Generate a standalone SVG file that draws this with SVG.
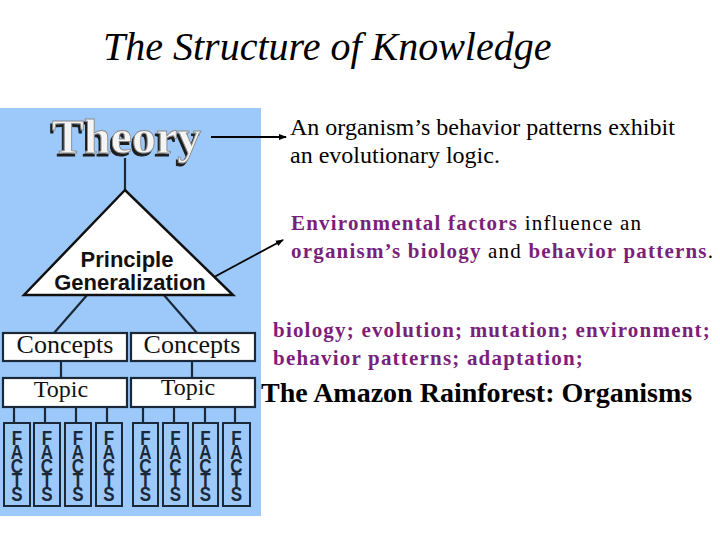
<svg xmlns="http://www.w3.org/2000/svg" width="720" height="540" viewBox="0 0 720 540">
<style>
.box{fill:#ffffff;stroke:#1b2838;stroke-width:2.2}
.fbox{fill:#9cc9f9;stroke:#1b2838;stroke-width:2}
.ln{stroke:#1b2838;stroke-width:2.2;fill:none}
.arr{stroke:#000;stroke-width:1.8;fill:none}
.serif{font-family:"Liberation Serif","Times New Roman",serif}
.sans{font-family:"Liberation Sans",Arial,sans-serif}
.lbl{font-family:"Liberation Serif","Times New Roman",serif;fill:#111;text-anchor:middle}
.f{font-family:"Liberation Sans",Arial,sans-serif;font-weight:bold;font-size:17px;fill:#1b2838;writing-mode:vertical-rl;text-orientation:upright;letter-spacing:-7.5px}
.pur{fill:#7b1f7b;font-weight:bold}
</style>
<defs>
<marker id="ah" markerWidth="8" markerHeight="8" refX="7" refY="4" orient="auto" markerUnits="userSpaceOnUse">
<path d="M0,1 L8,4 L0,7 z" fill="#000"/>
</marker>
<filter id="sh" x="-10%" y="-20%" width="120%" height="150%">
<feDropShadow dx="-2" dy="3" stdDeviation="0.6" flood-color="#1e1e1e" flood-opacity="1"/>
</filter>
</defs>
<rect width="720" height="540" fill="#ffffff"/>
<text class="serif" x="103" y="60" font-size="40" font-style="italic" fill="#000">The Structure of Knowledge</text>
<rect id="panel" x="0" y="108" width="261" height="408" fill="#9cc9f9"/>
<g id="connectors">
<line class="ln" x1="125" y1="158" x2="125" y2="191"/>
<line class="ln" x1="88" y1="294" x2="54" y2="333"/>
<line class="ln" x1="163" y1="294" x2="197" y2="333"/>
<line class="ln" x1="61" y1="361" x2="61" y2="378"/>
<line class="ln" x1="192" y1="361" x2="192" y2="378"/>
<line class="ln" x1="14" y1="407" x2="14" y2="423"/>
<line class="ln" x1="45" y1="407" x2="45" y2="423"/>
<line class="ln" x1="76" y1="407" x2="76" y2="423"/>
<line class="ln" x1="107" y1="407" x2="107" y2="423"/>
<line class="ln" x1="143" y1="407" x2="143" y2="423"/>
<line class="ln" x1="174" y1="407" x2="174" y2="423"/>
<line class="ln" x1="205" y1="407" x2="205" y2="423"/>
<line class="ln" x1="235" y1="407" x2="235" y2="423"/>
<line class="arr" x1="211" y1="137" x2="286" y2="137" marker-end="url(#ah)"/>
<line class="arr" x1="203" y1="283" x2="283" y2="240" marker-end="url(#ah)"/>
</g>
<g id="theory">
<text class="serif" x="52" y="153" font-size="48" font-weight="bold" fill="#f4f4f4" stroke="#8a8a8a" stroke-width="0.9" filter="url(#sh)">Theory</text>
</g>
<g id="principle">
<polygon points="125,190 24,295 233,295" fill="#ffffff" stroke="#111" stroke-width="2.5" stroke-linejoin="miter"/>
<text class="sans" x="127" y="267" font-size="22" font-weight="bold" text-anchor="middle" fill="#111">Principle</text>
<text class="sans" x="130" y="290" font-size="22" font-weight="bold" text-anchor="middle" fill="#111">Generalization</text>
</g>
<g id="concepts1"><rect class="box" x="3" y="333" width="124" height="28"/><text class="lbl" x="65" y="353" font-size="26">Concepts</text></g>
<g id="concepts2"><rect class="box" x="131" y="333" width="124" height="28"/><text class="lbl" x="192" y="353" font-size="26">Concepts</text></g>
<g id="topic1"><rect class="box" x="3" y="378" width="124" height="29"/><text class="lbl" x="61" y="397" font-size="24">Topic</text></g>
<g id="topic2"><rect class="box" x="131" y="378" width="124" height="29"/><text class="lbl" x="188" y="395" font-size="24">Topic</text></g>
<g id="facts1"><rect class="fbox" x="4" y="423" width="26" height="83"/><text class="f" transform="translate(17,427) scale(1,1.2)" x="0" y="0">FACTS</text></g>
<g id="facts2"><rect class="fbox" x="34" y="423" width="26" height="83"/><text class="f" transform="translate(47,427) scale(1,1.2)" x="0" y="0">FACTS</text></g>
<g id="facts3"><rect class="fbox" x="65" y="423" width="26" height="83"/><text class="f" transform="translate(78,427) scale(1,1.2)" x="0" y="0">FACTS</text></g>
<g id="facts4"><rect class="fbox" x="96" y="423" width="26" height="83"/><text class="f" transform="translate(109,427) scale(1,1.2)" x="0" y="0">FACTS</text></g>
<g id="facts5"><rect class="fbox" x="133" y="423" width="25" height="83"/><text class="f" transform="translate(145.5,427) scale(1,1.2)" x="0" y="0">FACTS</text></g>
<g id="facts6"><rect class="fbox" x="163" y="423" width="25" height="83"/><text class="f" transform="translate(175.5,427) scale(1,1.2)" x="0" y="0">FACTS</text></g>
<g id="facts7"><rect class="fbox" x="193" y="423" width="25" height="83"/><text class="f" transform="translate(205.5,427) scale(1,1.2)" x="0" y="0">FACTS</text></g>
<g id="facts8"><rect class="fbox" x="223" y="423" width="27" height="83"/><text class="f" transform="translate(236.5,427) scale(1,1.2)" x="0" y="0">FACTS</text></g>
<g id="theory-text">
<text class="serif" x="290" y="135" font-size="24" fill="#000">An organism’s behavior patterns exhibit</text>
<text class="serif" x="290" y="163" font-size="24" fill="#000">an evolutionary logic.</text>
</g>
<g id="principle-text">
<text class="serif" x="291" y="230" font-size="21" letter-spacing="1.2" fill="#000"><tspan class="pur">Environmental factors</tspan> influence an</text>
<text class="serif" x="291" y="258" font-size="21" letter-spacing="1.2" fill="#000"><tspan class="pur">organism’s biology</tspan> and <tspan class="pur">behavior patterns</tspan>.</text>
</g>
<g id="concepts-text">
<text class="serif pur" x="273" y="337" font-size="21" letter-spacing="1.2">biology; evolution; mutation; environment;</text>
<text class="serif pur" x="273" y="365" font-size="21" letter-spacing="1.2">behavior patterns; adaptation;</text>
</g>
<g id="topic-text">
<text class="serif" x="261" y="402" font-size="28" font-weight="bold" fill="#000">The Amazon Rainforest: Organisms</text>
</g>
</svg>
